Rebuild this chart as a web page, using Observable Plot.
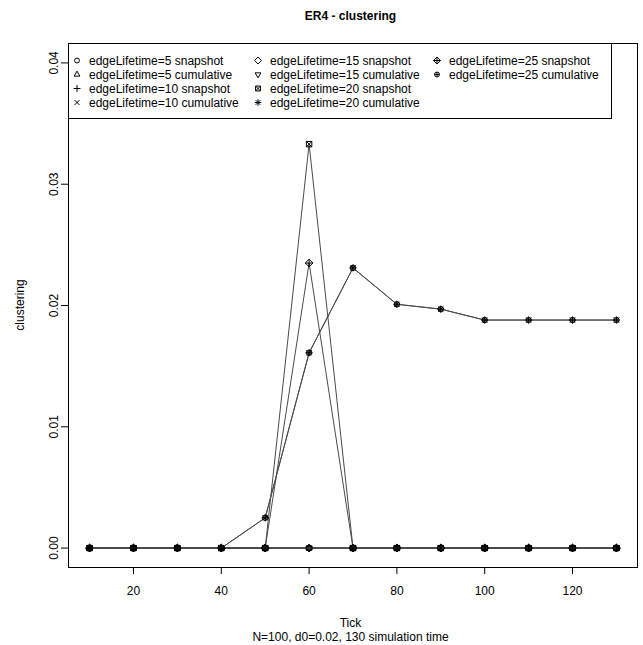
<!DOCTYPE html>
<html>
<head>
<meta charset="utf-8">
<script src="https://cdn.jsdelivr.net/npm/d3@7"></script>
<script src="https://cdn.jsdelivr.net/npm/@observablehq/plot@0.6"></script>
<style>
  html, body { margin: 0; padding: 0; background: #fff; }
  #chart { width: 643px; height: 645px; }
  svg text { font-family: "Liberation Sans", Arial, sans-serif; }
</style>
</head>
<body>
<div id="chart"></div>
<script>
// ---- data ----
const ticks = [10, 20, 30, 40, 50, 60, 70, 80, 90, 100, 110, 120, 130];
const snapshot5   = [0, 0, 0, 0, 0, 0, 0, 0, 0, 0, 0, 0, 0];
const cumulative5 = [0, 0, 0, 0, 0, 0, 0, 0, 0, 0, 0, 0, 0];
const snapshot10   = [0, 0, 0, 0, 0, 0, 0, 0, 0, 0, 0, 0, 0];
const cumulative10 = [0, 0, 0, 0, 0, 0, 0, 0, 0, 0, 0, 0, 0];
const snapshot15   = [0, 0, 0, 0, 0, 0, 0, 0, 0, 0, 0, 0, 0];
const cumulative15 = [0, 0, 0, 0, 0, 0, 0, 0, 0, 0, 0, 0, 0];
const snapshot20   = [0, 0, 0, 0, 0, 0.0333, 0, 0, 0, 0, 0, 0, 0];
const cumulative20 = [0, 0, 0, 0, 0.0025, 0.0161, 0.0231, 0.0201, 0.0197, 0.0188, 0.0188, 0.0188, 0.0188];
const snapshot25   = [0, 0, 0, 0, 0, 0.0235, 0, 0, 0, 0, 0, 0, 0];
const cumulative25 = [0, 0, 0, 0, 0.0025, 0.0161, 0.0231, 0.0201, 0.0197, 0.0188, 0.0188, 0.0188, 0.0188];
const seriesNames = [
  "edgeLifetime=5 snapshot", "edgeLifetime=5 cumulative",
  "edgeLifetime=10 snapshot", "edgeLifetime=10 cumulative",
  "edgeLifetime=15 snapshot", "edgeLifetime=15 cumulative",
  "edgeLifetime=20 snapshot", "edgeLifetime=20 cumulative",
  "edgeLifetime=25 snapshot", "edgeLifetime=25 cumulative"
];
const seriesValues = [snapshot5, cumulative5, snapshot10, cumulative10, snapshot15, cumulative15,
  snapshot20, cumulative20, snapshot25, cumulative25];
const xTicks = [20, 40, 60, 80, 100, 120];
const yTicks = [0, 0.01, 0.02, 0.03, 0.04];
const titleText = "ER4 - clustering";
const xLabel = "Tick";
const yLabel = "clustering";
const subText = "N=100, d0=0.02, 130 simulation time";

// ---- R-like pch symbols ----
const rad = s => Math.sqrt(s / Math.PI);
function circ(c, r) { c.moveTo(r, 0); c.arc(0, 0, r, 0, 2 * Math.PI); }
function plus(c, r) { c.moveTo(-r, 0); c.lineTo(r, 0); c.moveTo(0, -r); c.lineTo(0, r); }
function cross(c, r) { c.moveTo(-r, -r); c.lineTo(r, r); c.moveTo(-r, r); c.lineTo(r, -r); }
function diamond(c, r) { c.moveTo(0, -r); c.lineTo(r, 0); c.lineTo(0, r); c.lineTo(-r, 0); c.closePath(); }
const symbols = [
  {draw(c, s) { circ(c, rad(s) * 0.85); }},
  {draw(c, s) { const r = rad(s) * 1.15; c.moveTo(0, -r); c.lineTo(r * 0.866, r * 0.5); c.lineTo(-r * 0.866, r * 0.5); c.closePath(); }},
  {draw(c, s) { plus(c, rad(s) * 1.2); }},
  {draw(c, s) { cross(c, rad(s) * 0.85); }},
  {draw(c, s) { diamond(c, rad(s) * 1.2); }},
  {draw(c, s) { const r = rad(s) * 1.15; c.moveTo(0, r); c.lineTo(r * 0.866, -r * 0.5); c.lineTo(-r * 0.866, -r * 0.5); c.closePath(); }},
  {draw(c, s) { const r = rad(s) * 0.85; c.rect(-r, -r, 2 * r, 2 * r); cross(c, r); }},
  {draw(c, s) { const r = rad(s) * 1.0; plus(c, r * 1.1); cross(c, r * 0.8); }},
  {draw(c, s) { const r = rad(s) * 1.2; diamond(c, r); plus(c, r); }},
  {draw(c, s) { const r = rad(s) * 0.85; circ(c, r); plus(c, r); }}
];

const rows = [];
seriesValues.forEach((vals, i) => vals.forEach((v, j) => rows.push({series: seriesNames[i], idx: i, tick: ticks[j], value: v})));

const marks = [Plot.frame({stroke: "black"})];
seriesNames.forEach((name, i) => {
  const d = rows.filter(r => r.idx === i);
  marks.push(Plot.line(d, {x: "tick", y: "value", stroke: "#4a4a4a", strokeWidth: 1}));
  marks.push(Plot.dot(d, {x: "tick", y: "value", symbol: symbols[i], r: 3.2, stroke: "black", fill: "none", strokeWidth: 1}));
});
marks.push(Plot.axisX(xTicks, {tickSize: 7, tickPadding: 12, fontSize: 12, label: null, stroke: "black", fill: "black"}));
marks.push(Plot.axisY(yTicks, {tickSize: 7, tickPadding: 4, fontSize: 12, tickRotate: -90, label: null, tickFormat: d3.format(".2f"), stroke: "black", fill: "black"}));

const W = 643, H = 645;
const mL = 68, mR = 6, mT = 43, mB = 78;
const svg = Plot.plot({
  width: W, height: H,
  marginLeft: mL, marginRight: mR, marginTop: mT, marginBottom: mB,
  x: {domain: [5.2, 134.8]},
  y: {domain: [-0.0016, 0.0416]},
  style: {fontFamily: "Liberation Sans, Arial, sans-serif", color: "black", background: "white"},
  marks
});
document.getElementById("chart").appendChild(svg);

// ---- titles & legend ----
const s = d3.select(svg);
const cx = (mL + (W - mR)) / 2 - 2;
const ff = "Liberation Sans, Arial, sans-serif";
s.append("text").attr("x", cx).attr("y", 20).attr("text-anchor", "middle")
  .attr("font-size", 12).attr("font-weight", "bold").attr("font-family", ff).attr("fill", "black").text(titleText);
s.append("text").attr("x", cx).attr("y", 627).attr("text-anchor", "middle")
  .attr("font-size", 12).attr("font-family", ff).attr("fill", "black").text(xLabel);
s.append("text").attr("x", cx).attr("y", 641).attr("text-anchor", "middle")
  .attr("font-size", 12).attr("font-family", ff).attr("fill", "black").text(subText);
s.append("text").attr("transform", `translate(24,${(mT + H - mB) / 2}) rotate(-90)`).attr("text-anchor", "middle")
  .attr("font-size", 12).attr("font-family", ff).attr("fill", "black").text(yLabel);

const lg = s.append("g").attr("text-anchor", "start");
lg.append("rect").attr("x", mL + 0.5).attr("y", mT + 0.5).attr("width", 611 - mL).attr("height", 118 - mT)
  .attr("fill", "white").attr("stroke", "black");
const colX = [77, 258, 437];
seriesNames.forEach((name, i) => {
  const col = Math.floor(i / 4), row = i % 4;
  const x = colX[col], y = 60.5 + row * 14;
  const p = d3.path(); symbols[i].draw(p, Math.PI * 2.9 * 2.9);
  lg.append("path").attr("transform", `translate(${x},${y})`).attr("d", p.toString())
    .attr("fill", "none").attr("stroke", "black");
  lg.append("text").attr("x", x + 12).attr("y", y + 4).attr("text-anchor", "start").attr("font-size", 12)
    .attr("font-family", ff).attr("fill", "black").text(name);
});
</script>
</body>
</html>
